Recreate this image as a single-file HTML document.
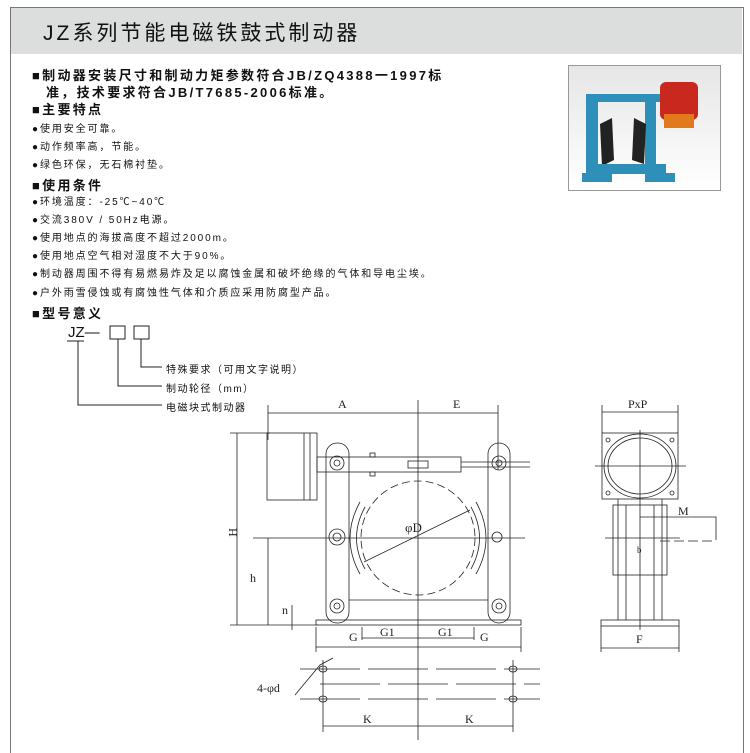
<!DOCTYPE html>
<html><head><meta charset="utf-8"><style>
body{margin:0;background:#fff;width:750px;height:750px;overflow:hidden;position:relative;font-family:"Liberation Sans","Noto Sans CJK SC",sans-serif;}
.t{position:absolute;white-space:nowrap;color:#111;}
.b{font-weight:bold;font-size:13px;letter-spacing:2.3px;}
.s{font-size:10px;letter-spacing:1.9px;}
</style></head><body>
<div style="position:absolute;left:10px;top:7px;width:732px;height:745px;border-left:1px solid #777;border-right:1px solid #777;border-top:1px solid #777;"></div>
<div style="position:absolute;left:11px;top:8px;width:731px;height:46px;background:#dcdddd;"></div>
<div class="t" style="left:43px;top:17px;font-size:21px;letter-spacing:3px;">JZ系列节能电磁铁鼓式制动器</div>
<div class="t b" style="left:32px;top:65px;">■制动器安装尺寸和制动力矩参数符合JB/ZQ4388一1997标</div>
<div class="t b" style="left:46px;top:82px;">准，技术要求符合JB/T7685-2006标准。</div>
<div class="t b" style="left:32px;top:99px;">■主要特点</div>
<div class="t s" style="left:32px;top:120px;">●使用安全可靠。</div>
<div class="t s" style="left:32px;top:138px;">●动作频率高，节能。</div>
<div class="t s" style="left:32px;top:156px;">●绿色环保，无石棉衬垫。</div>
<div class="t b" style="left:32px;top:175px;">■使用条件</div>
<div class="t s" style="left:32px;top:193px;">●环境温度：-25℃~40℃</div>
<div class="t s" style="left:32px;top:211px;">●交流380V / 50Hz电源。</div>
<div class="t s" style="left:32px;top:229px;">●使用地点的海拔高度不超过2000m。</div>
<div class="t s" style="left:32px;top:247px;">●使用地点空气相对湿度不大于90%。</div>
<div class="t s" style="left:32px;top:265px;">●制动器周围不得有易燃易炸及足以腐蚀金属和破坏绝缘的气体和导电尘埃。</div>
<div class="t s" style="left:32px;top:284px;">●户外雨雪侵蚀或有腐蚀性气体和介质应采用防腐型产品。</div>
<div class="t b" style="left:32px;top:303px;">■型号意义</div>
<div class="t" style="left:68px;top:324px;font-size:15px;">JZ—</div>
<div class="t s" style="left:166px;top:361px;letter-spacing:1.5px;">特殊要求（可用文字说明）</div>
<div class="t s" style="left:166px;top:380px;letter-spacing:1.5px;">制动轮径（mm）</div>
<div class="t s" style="left:166px;top:399px;letter-spacing:1.5px;">电磁块式制动器</div>
<div style="position:absolute;left:568px;top:65px;width:151px;height:124px;border:1px solid #999;background:linear-gradient(#e6e6e6,#fff);"></div>
<svg width="750" height="750" style="position:absolute;left:0;top:0" fill="none" stroke="#222" stroke-width="1">
<g stroke="none">
<rect x="588" y="94" width="72" height="8" fill="#2e8fb8"/>
<rect x="586" y="94" width="12" height="86" fill="#2e8fb8"/>
<rect x="645" y="94" width="11" height="86" fill="#2e8fb8"/>
<path d="M600,124 L612,118 L614,160 L602,166 Z" fill="#222"/>
<path d="M634,118 L646,124 L644,164 L632,160 Z" fill="#222"/>
<rect x="586" y="164" width="80" height="10" fill="#2e8fb8"/>
<rect x="582" y="173" width="30" height="9" fill="#2e8fb8"/>
<rect x="645" y="173" width="30" height="9" fill="#2e8fb8"/>
<rect x="660" y="82" width="38" height="38" rx="6" fill="#c8281e"/>
<rect x="664" y="114" width="30" height="14" fill="#e07a1c"/>
</g>
<g stroke-width="1">
<line x1="67" y1="341" x2="84" y2="341"/>
<rect x="110" y="326" width="15" height="13"/>
<rect x="134" y="326" width="15" height="13"/>
<polyline points="141,339 141,367 162,367"/>
<polyline points="118,339 118,386 162,386"/>
<polyline points="78,341 78,405 162,405"/>
</g>
<g stroke-width="0.8">
<line x1="268" y1="413" x2="498" y2="413"/>
<line x1="268" y1="405" x2="268" y2="440"/>
<line x1="498" y1="405" x2="498" y2="470"/>
<line x1="418" y1="400" x2="418" y2="740"/>
<line x1="230" y1="433" x2="270" y2="433"/>
<line x1="237" y1="433" x2="237" y2="625"/>
<line x1="230" y1="625" x2="318" y2="625"/>
<line x1="268" y1="538" x2="268" y2="625"/>
<line x1="253" y1="538" x2="525" y2="538"/>
<line x1="292" y1="605" x2="292" y2="630"/>
<rect x="267" y="433" width="50" height="67"/>
<line x1="304" y1="433" x2="304" y2="500"/><line x1="310" y1="433" x2="310" y2="500"/>
<rect x="317" y="457" width="144" height="15"/>
<rect x="408" y="461" width="20" height="7"/>
<line x1="461" y1="462" x2="530" y2="462"/><line x1="461" y1="467" x2="530" y2="467"/>
<rect x="370" y="453" width="5" height="4"/><rect x="370" y="472" width="5" height="4"/>
<rect x="326" y="443" width="23" height="180" rx="11"/>
<rect x="488" y="443" width="22" height="180" rx="11"/>
<circle cx="337" cy="463" r="7"/><circle cx="337" cy="463" r="3"/>
<circle cx="499" cy="463" r="7"/><circle cx="499" cy="463" r="3"/>
<circle cx="337" cy="537" r="8"/><circle cx="337" cy="537" r="4"/>
<circle cx="337" cy="606" r="7"/><circle cx="337" cy="606" r="3"/>
<circle cx="499" cy="606" r="7"/><circle cx="499" cy="606" r="3"/>
<circle cx="497" cy="537" r="5"/>
<ellipse cx="418" cy="538" rx="57" ry="57" stroke-dasharray="8,4"/>
<path d="M365,507 Q348,538 365,569"/><path d="M360,502 Q340,538 360,574"/>
<path d="M471,507 Q488,538 471,569"/><path d="M476,502 Q496,538 476,574"/>
<line x1="364" y1="562" x2="470" y2="510"/>
<text x="405" y="532" font-family="Liberation Serif" font-size="13" fill="#222" stroke="none">φD</text>
<rect x="316" y="620" width="205" height="5"/>
<line x1="349" y1="600" x2="488" y2="600"/>
<line x1="316" y1="627" x2="316" y2="652"/><line x1="521" y1="627" x2="521" y2="652"/>
<line x1="362" y1="627" x2="362" y2="640"/><line x1="474" y1="627" x2="474" y2="640"/>
<line x1="362" y1="638" x2="474" y2="638"/>
<line x1="316" y1="647" x2="521" y2="647"/>
<line x1="300" y1="669" x2="540" y2="669" stroke-dasharray="60,8"/>
<line x1="300" y1="699" x2="540" y2="699" stroke-dasharray="60,8"/>
<line x1="320" y1="684" x2="540" y2="684" stroke-dasharray="60,8"/>
<ellipse cx="323" cy="669" rx="4" ry="3"/><ellipse cx="323" cy="699" rx="4" ry="3"/>
<ellipse cx="513" cy="669" rx="4" ry="3"/><ellipse cx="513" cy="699" rx="4" ry="3"/>
<polyline points="295,695 320,665 333,658"/>
<line x1="323" y1="660" x2="323" y2="732"/><line x1="513" y1="660" x2="513" y2="732"/>
<line x1="323" y1="726" x2="513" y2="726"/>
<line x1="602" y1="412" x2="678" y2="412"/>
<line x1="602" y1="405" x2="602" y2="433"/><line x1="678" y1="405" x2="678" y2="433"/>
<rect x="602" y="433" width="76" height="66"/>
<ellipse cx="640" cy="466" rx="36" ry="32"/><ellipse cx="640" cy="466" rx="32" ry="28"/>
<line x1="595" y1="466" x2="686" y2="466"/><line x1="640" y1="430" x2="640" y2="630"/>
<circle cx="608" cy="440" r="2"/><circle cx="672" cy="440" r="2"/><circle cx="608" cy="493" r="2"/><circle cx="672" cy="493" r="2"/>
<rect x="613" y="505" width="54" height="70"/>
<line x1="618" y1="499" x2="618" y2="620"/><line x1="662" y1="499" x2="662" y2="620"/>
<line x1="626" y1="505" x2="626" y2="620"/><line x1="654" y1="505" x2="654" y2="620"/>
<line x1="605" y1="538" x2="680" y2="538"/>
<polyline points="640,517 716,517 716,540"/>
<line x1="660" y1="541" x2="716" y2="541" stroke-dasharray="10,4"/>
<rect x="601" y="620" width="78" height="6"/>
<line x1="601" y1="626" x2="601" y2="652"/><line x1="679" y1="626" x2="679" y2="652"/>
<line x1="601" y1="648" x2="679" y2="648"/>
</g>
<g font-family="Liberation Serif" font-size="12" fill="#222" stroke="none">
<text x="338" y="408">A</text><text x="453" y="408">E</text>
<text x="230" y="535" transform="rotate(90 233 531)">H</text>
<text x="250" y="582">h</text><text x="282" y="614">n</text>
<text x="349" y="641">G</text><text x="380" y="636">G1</text><text x="438" y="636">G1</text><text x="480" y="641">G</text>
<text x="257" y="692">4-φd</text>
<text x="363" y="723">K</text><text x="465" y="723">K</text>
<text x="628" y="408">PxP</text><text x="678" y="515">M</text><text x="637" y="553" font-size="9">b</text><text x="636" y="643">F</text>
</g>
</svg>
</body></html>
